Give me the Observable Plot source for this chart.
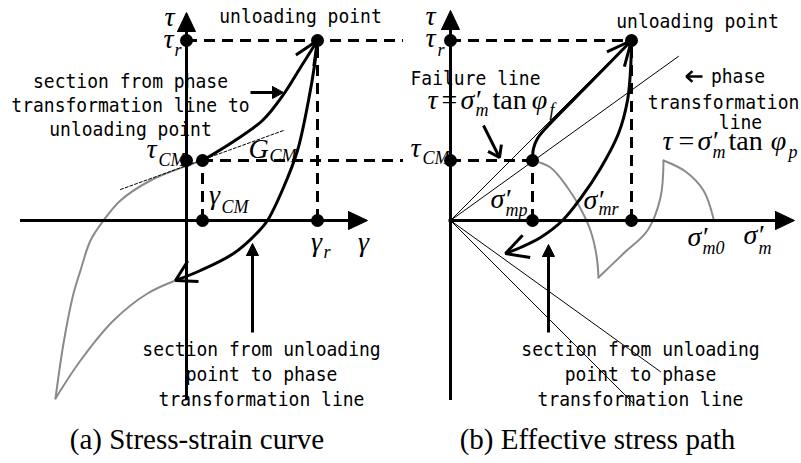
<!DOCTYPE html>
<html>
<head>
<meta charset="utf-8">
<script src="https://cdn.jsdelivr.net/npm/d3@7"></script>
<script src="https://cdn.jsdelivr.net/npm/@observablehq/plot@0.6"></script>
<style>
  html, body { margin: 0; padding: 0; background: #fff; }
  #fig { display: flex; width: 801px; }
  .panel { flex: none; }
  .cap {
    font-family: "Liberation Serif", "Times New Roman", serif;
    font-size: 29px; height: 48px; line-height: 48px;
    text-align: center; padding-right: 6px; white-space: nowrap; color: #000;
  }
</style>
</head>
<body>
<div id="fig">
  <div class="panel" id="pa" style="width:400px"></div>
  <div class="panel" id="pb" style="width:401px"></div>
</div>
<script>
// ---- shared stress levels (τ) ----
const TAU_R = 1.80;   // τ_r, unloading point
const TAU_CM = 0.60;  // τ_CM, on the phase transformation line

// ---- (a) stress–strain curve, [γ, τ] ----
const GAMMA_CM = 0.16;
const GAMMA_R = 1.31;
const loadingA = [[0.16, 0.60], [0.47, 0.79], [0.76, 1.00], [0.97, 1.26], [1.14, 1.53], [1.31, 1.80]];
const unloadingA = [[1.31, 1.80], [1.28, 1.55], [1.22, 1.20], [1.11, 0.70], [0.97, 0.33], [0.81, 0.00],
                    [0.71, -0.12], [0.47, -0.33], [0.14, -0.50], [-0.11, -0.60]];
const earlierA = [
  [[0.16, 0.60], [0.01, 0.55], [-0.36, 0.40], [-0.66, 0.20], [-0.83, 0.00], [-0.96, -0.20],
   [-1.06, -0.50], [-1.13, -0.73], [-1.23, -1.23], [-1.31, -1.78]],
  [[-1.31, -1.78], [-1.06, -1.40], [-0.73, -1.00], [-0.39, -0.73], [-0.11, -0.60]]
];
const tangentA = [[-0.66, 0.31], [0.97, 0.90]];   // G_CM

// ---- (b) effective stress path, [σ'm, τ] ----
const SIGMA_MP = 0.82;
const SIGMA_MR = 1.81;
const TAN_PHI_F = 1.00;   // failure line
const TAN_PHI_P = 0.72;   // phase transformation line
const failureReach = [1.78, 1.83];  // extent above / below the σ'm axis
const phaseReach = [2.28, 2.10];
const loadingB = [[0.82, 0.60], [0.83, 0.72], [0.87, 0.82], [0.95, 0.92], [1.40, 1.38], [1.81, 1.80]];
const unloadingB = [[1.81, 1.80], [1.80, 1.50], [1.77, 1.20], [1.68, 0.87], [1.50, 0.52], [1.30, 0.22],
                    [1.12, 0.00], [0.90, -0.17], [0.70, -0.27], [0.55, -0.33]];
const earlierB = [
  [[0.82, 0.60], [1.00, 0.53], [1.17, 0.33], [1.30, 0.12], [1.40, -0.10], [1.46, -0.35], [1.48, -0.57]],
  [[1.48, -0.57], [1.73, -0.33], [1.97, -0.10], [2.10, 0.23], [2.13, 0.60]],
  [[2.13, 0.60], [2.35, 0.49], [2.53, 0.30], [2.63, 0.02]]
];

// ---- helpers ----
const SERIF = "Liberation Serif";
const MONO = "DejaVu Sans Mono";
const GRAY = "#8a8a8a";
const DASH = "11,7";
const rad = Math.PI / 180;
const pts = (list, id = 0) => list.map(([x, y]) => ({x, y, id}));
const series = (lists) => lists.flatMap((l, i) => pts(l, i));

// open V arrowhead at the end of a path, following its last segment
function vHead(path, len, halfDeg, turnDeg = 0) {
  const [x0, y0] = path[path.length - 2], [x1, y1] = path[path.length - 1];
  const a = Math.atan2(y0 - y1, x0 - x1) + turnDeg * rad, h = halfDeg * rad;
  return [[x1 + len * Math.cos(a + h), y1 + len * Math.sin(a + h)], [x1, y1],
          [x1 + len * Math.cos(a - h), y1 + len * Math.sin(a - h)]];
}
// filled triangular head with its point at `tip`, coming from `from`
function tri(from, tip, len, hw) {
  const a = Math.atan2(tip[1] - from[1], tip[0] - from[0]);
  const bx = tip[0] - len * Math.cos(a), by = tip[1] - len * Math.sin(a);
  const nx = -Math.sin(a) * hw, ny = Math.cos(a) * hw;
  return [[bx + nx, by + ny], tip, [bx - nx, by - ny], [bx + nx, by + ny]];
}

const sym = (d) => Plot.text(d, {x: "x", y: "y", text: "t", fontFamily: SERIF, fontStyle: "italic",
  fontSize: 28, textAnchor: "middle", lineAnchor: "bottom"});
const symStart = (d) => Plot.text(d, {x: "x", y: "y", text: "t", fontFamily: SERIF, fontStyle: "italic",
  fontSize: 28, textAnchor: "start", lineAnchor: "bottom"});
const sub = (d) => Plot.text(d, {x: "x", y: "y", text: "t", fontFamily: SERIF, fontStyle: "italic",
  fontSize: 18, textAnchor: "start", lineAnchor: "bottom"});
const upright = (d, anchor) => Plot.text(d, {x: "x", y: "y", text: "t", fontFamily: SERIF,
  fontSize: 28, textAnchor: anchor, lineAnchor: "bottom"});
const mono = (d, lh = 1.2) => Plot.text(d, {x: "x", y: "y", text: "t", fontFamily: MONO,
  fontSize: 20, textAnchor: "middle", lineAnchor: "bottom", lineHeight: lh});

const heavy = {x: "x", y: "y", z: "id", stroke: "black", strokeWidth: 3, strokeLinejoin: "miter", strokeLinecap: "butt"};
const filled = {x: "x", y: "y", z: "id", fill: "black", stroke: "black", strokeWidth: 1};

function draw(el, width, xDomain, marks) {
  const svg = Plot.plot({
    width, height: 415, margin: 0,
    x: {domain: xDomain, axis: null},
    y: {domain: [-1.95, 2.20], axis: null},
    marks
  });
  svg.style.background = "transparent";
  svg.style.overflow = "visible";
  // narrow the monospaced labels to half-width glyph proportions
  d3.select(svg).selectAll(`g[font-family="${MONO}"] text`).each(function () {
    this.setAttribute("transform", (this.getAttribute("transform") || "") + " scale(0.9,1)");
  });
  el.appendChild(svg);
  return svg;
}

// ================= (a) Stress-strain curve =================
{
  const marks = [
    Plot.line(series(earlierA), {x: "x", y: "y", z: "id", curve: "catmull-rom", stroke: GRAY, strokeWidth: 2}),
    Plot.line(pts(tangentA), {x: "x", y: "y", stroke: "black", strokeWidth: 1, strokeDasharray: "3,2"}),
    // guides
    Plot.ruleY([TAU_R], {y: (d) => d, x1: 0, x2: 2.17, stroke: "black", strokeWidth: 3, strokeDasharray: DASH}),
    Plot.ruleY([TAU_CM], {y: (d) => d, x1: GAMMA_CM, x2: 2.17, stroke: "black", strokeWidth: 3, strokeDasharray: DASH}),
    Plot.ruleX([GAMMA_CM], {x: (d) => d, y1: 0, y2: TAU_CM, stroke: "black", strokeWidth: 3, strokeDasharray: DASH}),
    Plot.ruleX([GAMMA_R], {x: (d) => d, y1: 0, y2: TAU_R, stroke: "black", strokeWidth: 3, strokeDasharray: DASH}),
    // annotations
    mono([{x: 1.14, y: 1.98, t: "unloading point"}]),
    mono([{x: -0.56, y: 0.85, t: "section from phase\ntransformation line to\nunloading point"}], 1.2),
    mono([{x: 0.75, y: -1.85, t: "section from unloading\npoint to phase\ntransformation line"}], 1.25),
    // axes
    Plot.ruleY([0], {y: (d) => d, x1: -1.66, x2: 1.64, stroke: "black", strokeWidth: 3}),
    Plot.ruleX([0], {x: (d) => d, y1: -1.80, y2: 1.91, stroke: "black", strokeWidth: 3}),
    Plot.line(pts(tri([0, 0], [1.81, 0], 0.19, 0.09)), filled),
    Plot.line(pts(tri([0, 0], [0, 2.08], 0.19, 0.09)), filled),
    // pointer arrows
    Plot.line(pts([[0.64, 1.28], [0.88, 1.28]]), heavy),
    Plot.line(pts(tri([0.64, 1.28], [0.97, 1.28], 0.11, 0.06)), filled),
    Plot.line(pts([[0.66, -1.12], [0.66, -0.32]]), heavy),
    Plot.line(pts(tri([0.66, -1.12], [0.66, -0.23], 0.12, 0.06)), filled),
    // loading and unloading
    Plot.line(pts(loadingA), {...heavy, curve: "catmull-rom"}),
    Plot.line(pts(vHead(loadingA, 0.26, 24)), heavy),
    Plot.line(pts(unloadingA), {...heavy, curve: "catmull-rom"}),
    Plot.line(pts(vHead(unloadingA, 0.23, 30, 6)), heavy),
    Plot.dot(pts([[0, TAU_R], [0, TAU_CM], [GAMMA_CM, TAU_CM], [GAMMA_R, TAU_R], [GAMMA_CM, 0], [GAMMA_R, 0]]),
      {x: "x", y: "y", r: 6.5, fill: "black"}),
    // symbols
    sym([{x: -0.17, y: 1.95, t: "τ"}, {x: -0.18, y: 1.73, t: "τ"}, {x: -0.35, y: 0.63, t: "τ"},
         {x: 0.72, y: 0.63, t: "G"}, {x: 0.28, y: 0.17, t: "γ"}, {x: 1.30, y: -0.30, t: "γ"},
         {x: 1.77, y: -0.30, t: "γ"}]),
    sub([{x: -0.12, y: 1.65, t: "r"}, {x: -0.28, y: 0.55, t: "CM"}, {x: 0.83, y: 0.59, t: "CM"},
         {x: 0.35, y: 0.08, t: "CM"}, {x: 1.37, y: -0.37, t: "r"}])
  ];
  const el = document.getElementById("pa");
  draw(el, 400, [-1.86, 2.14], marks);
  const cap = document.createElement("div");
  cap.className = "cap";
  cap.textContent = "(a) Stress-strain curve";
  el.appendChild(cap);
}

// ================= (b) Effective stress path =================
{
  const rays = [
    [[0, 0], [failureReach[0], TAN_PHI_F * failureReach[0]]],
    [[0, 0], [failureReach[1], -TAN_PHI_F * failureReach[1]]],
    [[0, 0], [phaseReach[0], TAN_PHI_P * phaseReach[0]]],
    [[0, 0], [phaseReach[1], -TAN_PHI_P * phaseReach[1]]]
  ];
  const phasePointer = [[2.52, 1.44], [2.36, 1.44]];
  const marks = [
    Plot.line(series(earlierB), {x: "x", y: "y", z: "id", curve: "catmull-rom", stroke: GRAY, strokeWidth: 2}),
    Plot.line(series(rays), {x: "x", y: "y", z: "id", stroke: "black", strokeWidth: 1}),
    // guides
    Plot.ruleY([TAU_R], {y: (d) => d, x1: 0, x2: SIGMA_MR, stroke: "black", strokeWidth: 3, strokeDasharray: DASH}),
    Plot.ruleY([TAU_CM], {y: (d) => d, x1: 0, x2: SIGMA_MP, stroke: "black", strokeWidth: 3, strokeDasharray: DASH}),
    Plot.ruleX([SIGMA_MP], {x: (d) => d, y1: 0, y2: TAU_CM, stroke: "black", strokeWidth: 3, strokeDasharray: DASH}),
    Plot.ruleX([SIGMA_MR], {x: (d) => d, y1: 0, y2: TAU_R, stroke: "black", strokeWidth: 3, strokeDasharray: DASH}),
    // annotations
    mono([{x: 2.47, y: 1.93, t: "unloading point"}, {x: 0.25, y: 1.36, t: "Failure line"},
          {x: 2.875, y: 1.38, t: "phase"}, {x: 2.73, y: 1.12, t: "transformation"},
          {x: 2.90, y: 0.915, t: "line"}]),
    mono([{x: 1.90, y: -1.85, t: "section from unloading\npoint to phase\ntransformation line"}], 1.25),
    Plot.line(pts(phasePointer), {...heavy, strokeWidth: 2.5}),
    Plot.line(pts(vHead(phasePointer, 0.08, 42)), {...heavy, strokeWidth: 2.5}),
    // axes
    Plot.ruleY([0], {y: (d) => d, x1: -0.015, x2: 3.27, stroke: "black", strokeWidth: 3}),
    Plot.ruleX([0], {x: (d) => d, y1: -1.80, y2: 1.93, stroke: "black", strokeWidth: 3}),
    Plot.line(pts(tri([0, 0], [3.44, 0], 0.19, 0.09)), filled),
    Plot.line(pts(tri([0, 0], [0, 2.10], 0.19, 0.09)), filled),
    // pointer arrows
    Plot.line(pts([[0.33, 0.95], [0.49, 0.63]]), heavy),
    Plot.line(pts(vHead([[0.33, 0.95], [0.49, 0.63]], 0.13, 35)), heavy),
    Plot.line(pts([[0.98, -1.12], [0.98, -0.34]]), heavy),
    Plot.line(pts(tri([0.98, -1.12], [0.98, -0.24], 0.12, 0.06)), filled),
    // stress path
    Plot.line(pts(loadingB), {...heavy, curve: "catmull-rom"}),
    Plot.line(pts(vHead(loadingB, 0.27, 25, 4)), heavy),
    Plot.line(pts(unloadingB), {...heavy, curve: "catmull-rom"}),
    Plot.line(pts(vHead(unloadingB, 0.25, 28, -3)), heavy),
    Plot.dot(pts([[0, TAU_R], [0, TAU_CM], [SIGMA_MP, TAU_CM], [SIGMA_MR, TAU_R], [SIGMA_MP, 0], [SIGMA_MR, 0]]),
      {x: "x", y: "y", r: 6.5, fill: "black"}),
    // symbols
    sym([{x: -0.20, y: 1.96, t: "τ"}, {x: -0.20, y: 1.74, t: "τ"}, {x: -0.35, y: 0.64, t: "τ"},
         {x: -0.18, y: 1.12, t: "τ"}, {x: 0.89, y: 1.12, t: "φ"},
         {x: 2.17, y: 0.71, t: "τ"}, {x: 3.28, y: 0.71, t: "φ"}]),
    symStart([{x: 0.10, y: 1.12, t: "σ′"}, {x: 2.47, y: 0.71, t: "σ′"}, {x: 0.40, y: 0.13, t: "σ′"},
              {x: 1.33, y: 0.12, t: "σ′"}, {x: 2.37, y: -0.25, t: "σ′"}, {x: 2.93, y: -0.23, t: "σ′"}]),
    upright([{x: -0.01, y: 1.12, t: "="}, {x: 2.36, y: 0.71, t: "="}], "middle"),
    upright([{x: 0.42, y: 1.12, t: "tan"}, {x: 2.78, y: 0.71, t: "tan"}], "start"),
    sub([{x: -0.13, y: 1.65, t: "r"}, {x: -0.28, y: 0.57, t: "CM"}, {x: 0.25, y: 1.05, t: "m"},
         {x: 0.99, y: 1.05, t: "f"}, {x: 2.62, y: 0.63, t: "m"}, {x: 3.38, y: 0.63, t: "p"},
         {x: 0.55, y: 0.05, t: "mp"}, {x: 1.48, y: 0.06, t: "mr"}, {x: 2.52, y: -0.33, t: "m0"},
         {x: 3.08, y: -0.33, t: "m"}])
  ];
  const el = document.getElementById("pb");
  const svg = draw(el, 401, [-0.50, 3.51], marks);
  svg.style.overflow = "hidden";
  const cap = document.createElement("div");
  cap.className = "cap";
  cap.textContent = "(b) Effective stress path";
  el.appendChild(cap);
}
</script>
</body>
</html>
